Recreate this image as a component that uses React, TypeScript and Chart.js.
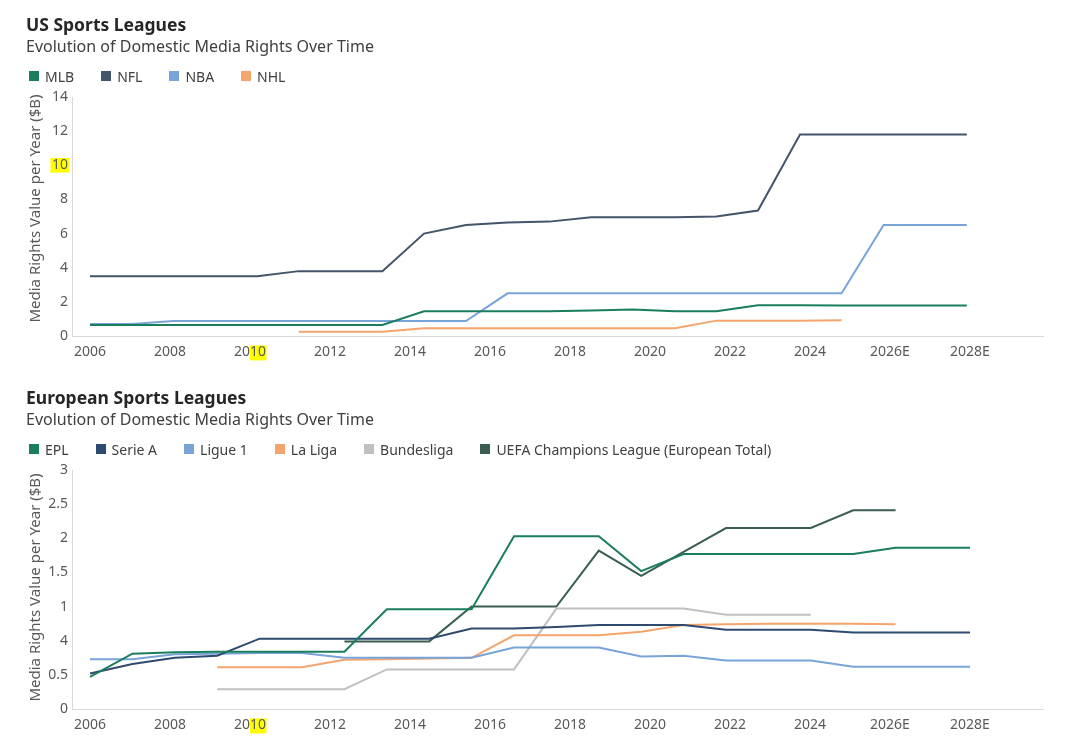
import React, { useEffect, useRef } from "react";
import { Chart, registerables } from "chart.js";

Chart.register(...registerables);

const FONT = '"Noto Sans", "Open Sans", sans-serif';
const TICK_COLOR = "#595959";
const AXIS_COLOR = "#d9d9d9";
const HIGHLIGHT = "#ffff00";
const TICK_SIZE = 14;
const Y_TITLE = "Media Rights Value per Year ($B)";

// x axis (shared)
const X_MIN = 2005.55;
const X_MAX = 2029.825;
const xTickYears = [2006, 2008, 2010, 2012, 2014, 2016, 2018, 2020, 2022, 2024, 2026, 2028];
const xTickLabels = ["2006", "2008", "2010", "2012", "2014", "2016", "2018", "2020", "2022", "2024", "2026E", "2028E"];

// ---------------- US panel ----------------
const usPeriods = [2006, 2007.04, 2008.09, 2009.13, 2010.18, 2011.22, 2012.26, 2013.31, 2014.35, 2015.4, 2016.44, 2017.48, 2018.53, 2019.57, 2020.62, 2021.66, 2022.7, 2023.75, 2024.79, 2025.84, 2026.88, 2027.92];
const mlbValues = [0.65, 0.65, 0.65, 0.65, 0.65, 0.65, 0.65, 0.65, 1.45, 1.45, 1.45, 1.45, 1.5, 1.55, 1.45, 1.45, 1.8, 1.8, 1.78, 1.78, 1.78, 1.78];
const nflValues = [3.5, 3.5, 3.5, 3.5, 3.5, 3.8, 3.8, 3.8, 6.0, 6.5, 6.65, 6.7, 6.95, 6.95, 6.95, 7.0, 7.35, 11.8, 11.8, 11.8, 11.8, 11.8];
const nbaValues = [0.7, 0.7, 0.88, 0.88, 0.88, 0.88, 0.88, 0.88, 0.88, 0.88, 2.5, 2.5, 2.5, 2.5, 2.5, 2.5, 2.5, 2.5, 2.5, 6.5, 6.5, 6.5];
const nhlValues = [null, null, null, null, null, 0.25, 0.25, 0.25, 0.45, 0.45, 0.45, 0.45, 0.45, 0.45, 0.45, 0.9, 0.9, 0.9, 0.92, null, null, null];

const usYTicks = [0, 2, 4, 6, 8, 10, 12, 14];
const usYTickLabels = ["0", "2", "4", "6", "8", "10", "12", "14"];

// ---------------- European panel ----------------
const euPeriods = [2006, 2007.06, 2008.12, 2009.18, 2010.24, 2011.3, 2012.36, 2013.42, 2014.48, 2015.54, 2016.6, 2017.66, 2018.72, 2019.78, 2020.84, 2021.9, 2022.96, 2024.02, 2025.08, 2026.14, 2028];
const eplValues = [0.47, 0.81, 0.83, 0.84, 0.84, 0.84, 0.84, 1.46, 1.46, 1.46, 2.53, 2.53, 2.53, 2.02, 2.27, 2.27, 2.27, 2.27, 2.27, 2.36, 2.36];
const serieAValues = [0.52, 0.66, 0.75, 0.78, 1.03, 1.03, 1.03, 1.03, 1.03, 1.18, 1.18, 1.2, 1.23, 1.23, 1.23, 1.16, 1.16, 1.16, 1.12, 1.12, 1.12];
const ligue1Values = [0.73, 0.73, 0.8, 0.81, 0.82, 0.82, 0.75, 0.75, 0.75, 0.75, 0.9, 0.9, 0.9, 0.77, 0.78, 0.71, 0.71, 0.71, 0.62, 0.62, 0.62];
const laLigaValues = [null, null, null, 0.61, 0.61, 0.61, 0.72, 0.73, 0.74, 0.75, 1.08, 1.08, 1.08, 1.13, 1.23, 1.24, 1.25, 1.25, 1.25, 1.24, null];
const bundesligaValues = [null, null, null, 0.29, 0.29, 0.29, 0.29, 0.58, 0.58, 0.58, 0.58, 1.47, 1.47, 1.47, 1.47, 1.38, 1.38, 1.38, null, null, null];
const uclValues = [null, null, null, null, null, null, 0.99, 0.99, 0.99, 1.5, 1.5, 1.5, 2.32, 1.95, 2.3, 2.65, 2.65, 2.65, 2.91, 2.91, null];

const euYTicks = [0, 0.5, 1, 1.5, 2, 2.5, 3, 3.5];
const euYTickLabels = ["0", "0.5", "4", "1", "1.5", "2", "2.5", "3"];

// colours
const C_GREEN = "#1a7d5e";
const C_SLATE = "#44546a";
const C_LIGHTBLUE = "#78a4d8";
const C_ORANGE = "#f4a46c";
const C_NAVY = "#2e4a6e";
const C_GREY = "#c0c0c0";
const C_DARKGREEN = "#3a5e50";

type Series = { name: string; color: string; x: number[]; values: (number | null)[] };

const usSeries: Series[] = [
  { name: "MLB", color: C_GREEN, x: usPeriods, values: mlbValues },
  { name: "NFL", color: C_SLATE, x: usPeriods, values: nflValues },
  { name: "NBA", color: C_LIGHTBLUE, x: usPeriods, values: nbaValues },
  { name: "NHL", color: C_ORANGE, x: usPeriods, values: nhlValues },
];

const euSeries: Series[] = [
  { name: "EPL", color: C_GREEN, x: euPeriods, values: eplValues },
  { name: "Serie A", color: C_NAVY, x: euPeriods, values: serieAValues },
  { name: "Ligue 1", color: C_LIGHTBLUE, x: euPeriods, values: ligue1Values },
  { name: "La Liga", color: C_ORANGE, x: euPeriods, values: laLigaValues },
  { name: "Bundesliga", color: C_GREY, x: euPeriods, values: bundesligaValues },
  { name: "UEFA Champions League (European Total)", color: C_DARKGREEN, x: euPeriods, values: uclValues },
];

// yellow highlight behind parts of tick labels, and a rotated y-axis title
const decorPlugin = {
  id: "decor",
  beforeDraw(chart: any, _args: any, opts: any) {
    const ctx = chart.ctx as CanvasRenderingContext2D;
    const xs = chart.scales.x;
    const ys = chart.scales.y;
    ctx.save();
    ctx.fillStyle = HIGHLIGHT;
    ctx.font = `${TICK_SIZE}px ${FONT}`;
    if (opts.xValue != null) {
      const px = xs.getPixelForValue(opts.xValue);
      const label: string = opts.xLabel;
      const full = ctx.measureText(label).width;
      const pre = ctx.measureText(label.slice(0, label.length - opts.xPart.length)).width;
      const cy = xs.top + 8 + (TICK_SIZE * 1.2) / 2;
      ctx.fillRect(px - full / 2 + pre, cy - 7, full - pre + 0.5, 15);
    }
    if (opts.yValue != null) {
      const py = ys.getPixelForValue(opts.yValue);
      const label: string = opts.yLabel;
      const w = ctx.measureText(label).width;
      const right = ys.right - 4;
      ctx.fillRect(right - w - 1.5, py - 7.3, w + 2.5, 14.6);
    }
    ctx.restore();
  },
  afterDraw(chart: any, _args: any, opts: any) {
    const ctx = chart.ctx as CanvasRenderingContext2D;
    const ys = chart.scales.y;
    const area = chart.chartArea;
    ctx.save();
    ctx.translate(ys.left + 9, (area.top + area.bottom) / 2 + (opts.titleShift || 0));
    ctx.rotate(-Math.PI / 2);
    ctx.font = `15px ${FONT}`;
    ctx.fillStyle = TICK_COLOR;
    ctx.textAlign = "center";
    ctx.textBaseline = "middle";
    ctx.fillText(opts.yTitle, 0, 0);
    ctx.restore();
  },
};

type PanelProps = {
  top: number;
  title: string;
  subtitle: string;
  series: Series[];
  yTicks: number[];
  yTickLabels: string[];
  yHighlight: number | null;
  titleShift: number;
};

function Panel({ top, title, subtitle, series, yTicks, yTickLabels, yHighlight, titleShift }: PanelProps) {
  const ref = useRef<HTMLCanvasElement>(null);
  useEffect(() => {
    if (!ref.current) return;
    const chart = new Chart(ref.current, {
      type: "line",
      data: {
        datasets: series.map((s) => ({
          label: s.name,
          data: s.x
            .map((xv, i) => ({ x: xv, y: s.values[i] }))
            .filter((p) => p.y !== null) as any,
          borderColor: s.color,
          backgroundColor: s.color,
          borderWidth: 2,
          pointRadius: 0,
          pointHoverRadius: 0,
          tension: 0,
        })),
      },
      plugins: [decorPlugin],
      options: {
        responsive: true,
        maintainAspectRatio: false,
        animation: false,
        events: [],
        layout: { padding: { left: 19, right: 29, top: 89, bottom: 20 } },
        plugins: {
          legend: { display: false },
          tooltip: { enabled: false },
          decor: {
            xValue: 2010,
            xLabel: "2010",
            xPart: "10",
            yValue: yHighlight,
            yLabel: yHighlight != null ? String(yHighlight) : "",
            yTitle: Y_TITLE,
            titleShift,
          },
        } as any,
        scales: {
          x: {
            type: "linear",
            min: X_MIN,
            max: X_MAX,
            grid: { display: false, drawTicks: false },
            border: { display: true, color: AXIS_COLOR, width: 1 },
            afterBuildTicks: (s: any) => {
              s.ticks = xTickYears.map((v) => ({ value: v }));
            },
            afterFit: (s: any) => {
              s.height = 25;
            },
            ticks: {
              autoSkip: false,
              maxRotation: 0,
              padding: 8,
              color: TICK_COLOR,
              font: { size: TICK_SIZE, family: FONT },
              callback: (_v: any, i: number) => xTickLabels[i],
            },
          },
          y: {
            type: "linear",
            min: yTicks[0],
            max: yTicks[yTicks.length - 1],
            grid: { display: false, drawTicks: false },
            border: { display: true, color: AXIS_COLOR, width: 1 },
            afterBuildTicks: (s: any) => {
              s.ticks = yTicks.map((v) => ({ value: v }));
            },
            afterFit: (s: any) => {
              s.width = 45;
            },
            ticks: {
              padding: 4,
              color: TICK_COLOR,
              font: { size: TICK_SIZE, family: FONT },
              callback: (_v: any, i: number) => yTickLabels[i],
            },
          },
        },
      } as any,
    });
    return () => chart.destroy();
  }, []);

  return (
    <div style={{ position: "absolute", left: 0, top, width: 1064, height: 373 }}>
      <canvas ref={ref} />
      <div
        style={{
          position: "absolute",
          left: 18,
          top: 5,
          font: `bold 17.5px ${FONT}`,
          lineHeight: "22px",
          color: "#262626",
          whiteSpace: "nowrap",
        }}
      >
        {title}
      </div>
      <div
        style={{
          position: "absolute",
          left: 18,
          top: 28,
          font: `16px ${FONT}`,
          lineHeight: "20px",
          color: "#404040",
          whiteSpace: "nowrap",
        }}
      >
        {subtitle}
      </div>
      <div
        style={{
          position: "absolute",
          left: 21,
          top: 58,
          height: 20,
          display: "flex",
          alignItems: "center",
          font: `14px ${FONT}`,
          color: "#404040",
          whiteSpace: "nowrap",
        }}
      >
        {series.map((s) => (
          <div key={s.name} style={{ display: "flex", alignItems: "center", marginRight: 27 }}>
            <span style={{ display: "inline-block", width: 10, height: 10, background: s.color, marginRight: 6 }} />
            <span>{s.name}</span>
          </div>
        ))}
      </div>
    </div>
  );
}

export default function App() {
  return (
    <div style={{ position: "relative", width: 1064, height: 728, overflow: "hidden", background: "#ffffff" }}>
      <Panel
        top={0}
        title="US Sports Leagues"
        subtitle="Evolution of Domestic Media Rights Over Time"
        series={usSeries}
        yTicks={usYTicks}
        yTickLabels={usYTickLabels}
        yHighlight={10}
        titleShift={-8}
      />
      <Panel
        top={373}
        title="European Sports Leagues"
        subtitle="Evolution of Domestic Media Rights Over Time"
        series={euSeries}
        yTicks={euYTicks}
        yTickLabels={euYTickLabels}
        yHighlight={null}
        titleShift={-2}
      />
    </div>
  );
}
